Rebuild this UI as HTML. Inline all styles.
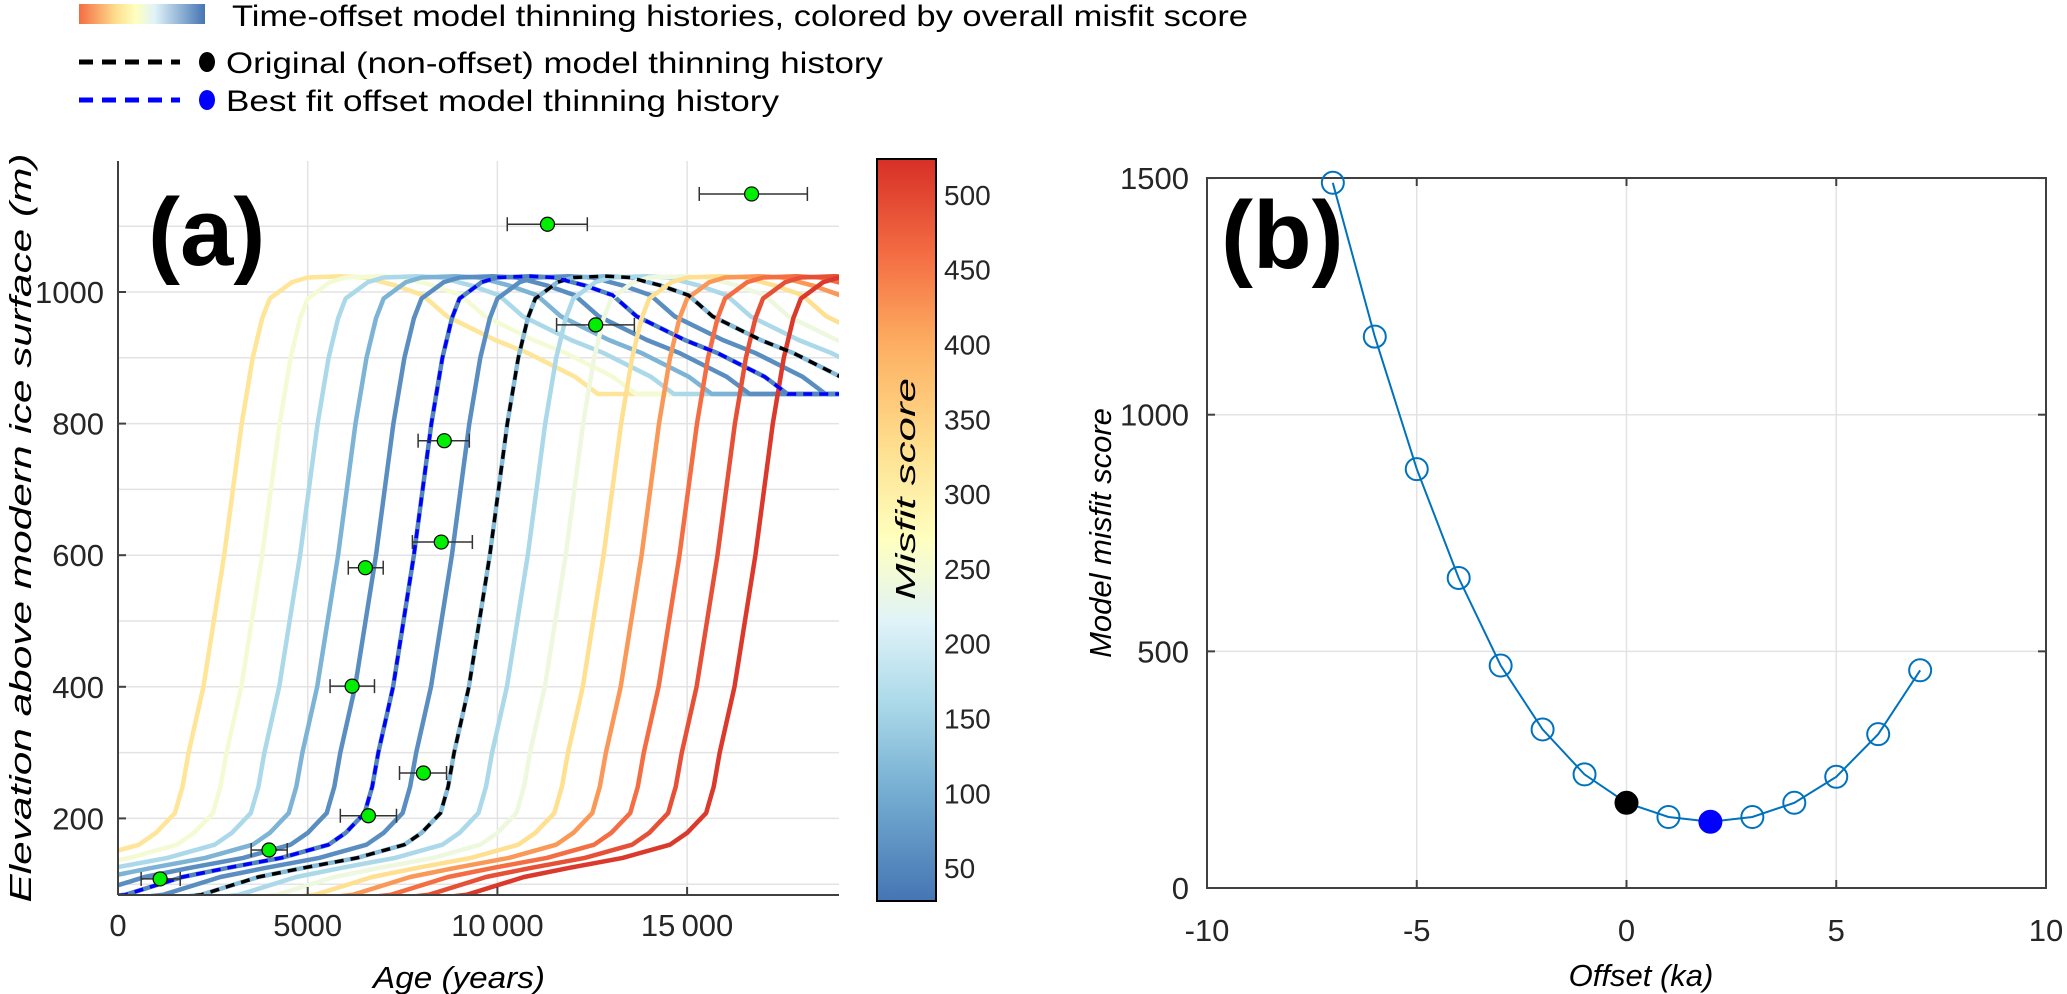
<!DOCTYPE html>
<html><head><meta charset="utf-8"><style>
html,body{margin:0;padding:0;background:#fff}
svg{display:block;font-family:"Liberation Sans",sans-serif}
</style></head><body>
<svg id="fig" width="2067" height="994" viewBox="0 0 2067 994" xmlns="http://www.w3.org/2000/svg">
<defs>
<linearGradient id="legGrad" x1="0" y1="0" x2="1" y2="0">
<stop offset="0" stop-color="#f46d43"/><stop offset="0.3" stop-color="#fee090"/><stop offset="0.45" stop-color="#ffffbf"/><stop offset="0.6" stop-color="#e0f3f8"/><stop offset="1" stop-color="#4575b4"/>
</linearGradient>
<linearGradient id="cbGrad" x1="0" y1="1" x2="0" y2="0"></linearGradient>
<clipPath id="clipA"><rect x="118" y="161" width="721" height="734"/></clipPath>
</defs>
<g>
<rect x="79" y="4" width="126" height="20" fill="url(#legGrad)"/>
<text x="232" y="26" font-size="30" textLength="1016" lengthAdjust="spacingAndGlyphs">Time-offset model thinning histories, colored by overall misfit score</text>
<line x1="79" y1="62" x2="180" y2="62" stroke="#000" stroke-width="5" stroke-dasharray="14,9"/>
<ellipse cx="207" cy="62" rx="8" ry="10" fill="#000"/>
<text x="226" y="73" font-size="30" textLength="657" lengthAdjust="spacingAndGlyphs">Original (non-offset) model thinning history</text>
<line x1="79" y1="100" x2="180" y2="100" stroke="#0000ff" stroke-width="5" stroke-dasharray="14,9"/>
<ellipse cx="207" cy="100" rx="8" ry="10" fill="#0000ff"/>
<text x="226" y="111" font-size="30" textLength="553" lengthAdjust="spacingAndGlyphs">Best fit offset model thinning history</text>
</g>
<g id="panelA"></g>
<g id="cbar"></g>
<g id="panelB"></g>
</svg>
<script>
// ---------- Panel (a) data ----------
const baseAge = [-3000,2200,3700,4900,6300,7550,8000,8500,8700,8860,9250,9800,10260,10550,10800,11000,11590,12000,12880,13500,14300,15040,15670,16940,17810,19050,19650,30000];
const baseElev = [50,84,111,125,140,160,178,208,248,300,400,600,800,900,960,990,1015,1022,1024,1022,1010,995,963,927,907,871,845,845];
const curveOffsets = [7,6,5,4,3,2,1,0,-1,-2,-3,-4,-5,-6,-7];
const curveMisfit = [320,250,160,110,60,50,60,120,160,240,330,420,460,490,515];
const bestOffset = 2;
const originalOffset = 0;
const obsAge = [16700,11320,12590,8600,8520,6520,6170,8050,6600,3980,1110];
const obsElev = [1149,1103,950,774,620,581,401,269,204,152,108];
const obsAgeLo = [15320,10260,11560,7910,7760,6070,5590,7420,5860,3510,610];
const obsAgeHi = [18170,12370,13610,9260,9340,6990,6760,8660,7340,4460,1640];
const aXTicks = [0,5000,10000,15000];
const aXTickLabels = ["0","5000","10\u2009000","15\u2009000"];
const aYTicks = [200,400,600,800,1000];
const aYGrid = [100,200,300,400,500,600,700,800,900,1000,1100];
// ---------- Colorbar ----------
const cbTicks = [50,100,150,200,250,300,350,400,450,500];
const cbMin = 28, cbMax = 524;
const cmapVals = [28,100,160,215,270,330,400,460,524];
const cmapCols = ["#4575b4","#74add1","#abd9e9","#e0f3f8","#ffffbf","#fee090","#fdae61","#f46d43","#d73027"];
// ---------- Panel (b) data ----------
const offsetsB = [-7,-6,-5,-4,-3,-2,-1,0,1,2,3,4,5,6,7];
const misfitB = [1490,1165,885,655,470,335,240,180,150,140,150,180,235,325,460];
const bXTicks = [-10,-5,0,5,10];
const bYTicks = [0,500,1000,1500];

const NS="http://www.w3.org/2000/svg";
function mk(tag, attrs, parent){const e=document.createElementNS(NS,tag);for(const k in attrs)e.setAttribute(k,attrs[k]);if(parent)parent.appendChild(e);return e;}
const ax = a => 118 + a*0.03794;
const ay = v => 292 + (1000 - v)*0.658;
const cby = v => 901 - (v-cbMin)/(cbMax-cbMin)*742;
const bx = o => 1207 + (o+10)*41.95;
const by = v => 888 - v*0.4733;
function hex2rgb(h){return [parseInt(h.substr(1,2),16),parseInt(h.substr(3,2),16),parseInt(h.substr(5,2),16)];}
function cmap(v){
  if(v<=cmapVals[0])return cmapCols[0];
  for(let i=1;i<cmapVals.length;i++){if(v<=cmapVals[i]){const t=(v-cmapVals[i-1])/(cmapVals[i]-cmapVals[i-1]);const a=hex2rgb(cmapCols[i-1]),b=hex2rgb(cmapCols[i]);return "rgb("+a.map((c,j)=>Math.round(c+(b[j]-c)*t)).join(",")+")";}}
  return cmapCols[cmapCols.length-1];
}
// ---------- Panel A ----------
const A=document.getElementById('panelA');
aYGrid.forEach(v=>{const l=mk('line',{x1:118,x2:839,y1:ay(v),y2:ay(v),stroke:'#e3e3e3','stroke-width':1.5},A);

});
aXTicks.forEach(t=>{if(t===0)return;const l=mk('line',{x1:ax(t),x2:ax(t),y1:161,y2:895,stroke:'#e3e3e3','stroke-width':1.5},A);

});
const curvesG=mk('g',{'clip-path':'url(#clipA)'},A);


function curvePts(off){return baseAge.map((a,i)=>ax(a-off*1000).toFixed(1)+","+ay(baseElev[i]).toFixed(1)).join(" ");}
curveOffsets.forEach((off,i)=>{
  const p=mk('polyline',{points:curvePts(off),fill:'none',stroke:cmap(curveMisfit[i]),'stroke-width':4.5,'stroke-linejoin':'round'},curvesG);
  
  
});
const od=mk('polyline',{points:curvePts(originalOffset),fill:'none',stroke:'#000','stroke-width':3.5,'stroke-dasharray':'9,7'},curvesG);


const bd=mk('polyline',{points:curvePts(bestOffset),fill:'none',stroke:'#0000ff','stroke-width':3.5,'stroke-dasharray':'9,7'},curvesG);


obsAge.forEach((a,i)=>{
  const g=mk('g',{},A);
  
  
  const y=ay(obsElev[i]),x1=ax(obsAgeLo[i]),x2=ax(obsAgeHi[i]);
  mk('line',{x1:x1,x2:x2,y1:y,y2:y,stroke:'#333','stroke-width':1.5},g);
  mk('line',{x1:x1,x2:x1,y1:y-7,y2:y+7,stroke:'#333','stroke-width':1.5},g);
  mk('line',{x1:x2,x2:x2,y1:y-7,y2:y+7,stroke:'#333','stroke-width':1.5},g);
  mk('circle',{cx:ax(a),cy:y,r:7,fill:'#00ee00',stroke:'#000','stroke-width':1.2},g);
});
mk('line',{x1:118,x2:118,y1:161,y2:895,stroke:'#404040','stroke-width':2},A);
mk('line',{x1:118,x2:839,y1:895,y2:895,stroke:'#404040','stroke-width':2},A);
aYTicks.forEach(v=>{mk('line',{x1:118,x2:126,y1:ay(v),y2:ay(v),stroke:'#404040','stroke-width':2},A);
const t=mk('text',{x:104,y:ay(v)+11,'font-size':31,'text-anchor':'end',fill:'#262626'},A);t.textContent=v;

});
aXTicks.forEach((v,i)=>{mk('line',{x1:ax(v),x2:ax(v),y1:895,y2:887,stroke:'#404040','stroke-width':2},A);
const t=mk('text',{x:ax(v),y:936,'font-size':31,'text-anchor':'middle',fill:'#262626'},A);t.textContent=aXTickLabels[i];

});
let t=mk('text',{x:459,y:988,'font-size':31,'font-style':'italic','text-anchor':'middle',textLength:172,lengthAdjust:'spacingAndGlyphs'},A);t.textContent='Age (years)';


t=mk('text',{x:0,y:0,'font-size':31,'font-style':'italic','text-anchor':'middle',transform:'translate(31,528) rotate(-90)',textLength:749,lengthAdjust:'spacingAndGlyphs'},A);t.textContent='Elevation above modern ice surface (m)';


t=mk('text',{x:148,y:265,'font-size':96,'font-weight':'bold'},A);t.textContent='(a)';


// ---------- Colorbar ----------
const grad=document.getElementById('cbGrad');
cmapVals.forEach((v,i)=>{mk('stop',{offset:((v-cbMin)/(cbMax-cbMin)).toFixed(3),'stop-color':cmapCols[i]},grad);});
const C=document.getElementById('cbar');
mk('rect',{x:877,y:159,width:59,height:742,fill:'url(#cbGrad)',stroke:'#000','stroke-width':2},C);
cbTicks.forEach(v=>{const t=mk('text',{x:944,y:cby(v)+10,'font-size':28,fill:'#262626'},C);t.textContent=v;

});
t=mk('text',{x:0,y:0,'font-size':28,'font-style':'italic','text-anchor':'middle',transform:'translate(915,489) rotate(-90)',textLength:222,lengthAdjust:'spacingAndGlyphs'},C);t.textContent='Misfit score';


// ---------- Panel B ----------
const B=document.getElementById('panelB');
[-5,0,5].forEach(v=>{const l=mk('line',{x1:bx(v),x2:bx(v),y1:178,y2:888,stroke:'#e3e3e3','stroke-width':1.5},B);

});
[500,1000].forEach(v=>{const l=mk('line',{x1:1207,x2:2046,y1:by(v),y2:by(v),stroke:'#e3e3e3','stroke-width':1.5},B);

});
mk('rect',{x:1207,y:178,width:839,height:710,fill:'none',stroke:'#404040','stroke-width':2},B);
bXTicks.forEach(v=>{mk('line',{x1:bx(v),x2:bx(v),y1:888,y2:880,stroke:'#404040','stroke-width':2},B);mk('line',{x1:bx(v),x2:bx(v),y1:178,y2:186,stroke:'#404040','stroke-width':2},B);
const t=mk('text',{x:bx(v),y:941,'font-size':31,'text-anchor':'middle',fill:'#262626'},B);t.textContent=v;

});
bYTicks.forEach(v=>{mk('line',{x1:1207,x2:1215,y1:by(v),y2:by(v),stroke:'#404040','stroke-width':2},B);mk('line',{x1:2046,x2:2038,y1:by(v),y2:by(v),stroke:'#404040','stroke-width':2},B);
const t=mk('text',{x:1189,y:by(v)+11,'font-size':31,'text-anchor':'end',fill:'#262626'},B);t.textContent=v;

});
const ln=mk('polyline',{points:offsetsB.map((o,i)=>bx(o).toFixed(1)+","+by(misfitB[i]).toFixed(1)).join(" "),fill:'none',stroke:'#0072bd','stroke-width':2},B);


offsetsB.forEach((o,i)=>{
  let fill='none',stroke='#0072bd',name='misfit-marker';
  if(o===originalOffset){fill='#000';stroke='#000';name='original-marker';}
  if(o===bestOffset){fill='#0000ff';stroke='#0000ff';name='bestfit-marker';}
  const c=mk('circle',{cx:bx(o),cy:by(misfitB[i]),r:11,fill:fill,stroke:stroke,'stroke-width':2},B);
  
  
});
t=mk('text',{x:1641,y:986,'font-size':31,'font-style':'italic','text-anchor':'middle'},B);t.textContent='Offset (ka)';


t=mk('text',{x:0,y:0,'font-size':31,'font-style':'italic','text-anchor':'middle',transform:'translate(1111,533) rotate(-90)'},B);t.textContent='Model misfit score';


t=mk('text',{x:1221,y:268,'font-size':96,'font-weight':'bold'},B);t.textContent='(b)';


</script>
</body></html>
